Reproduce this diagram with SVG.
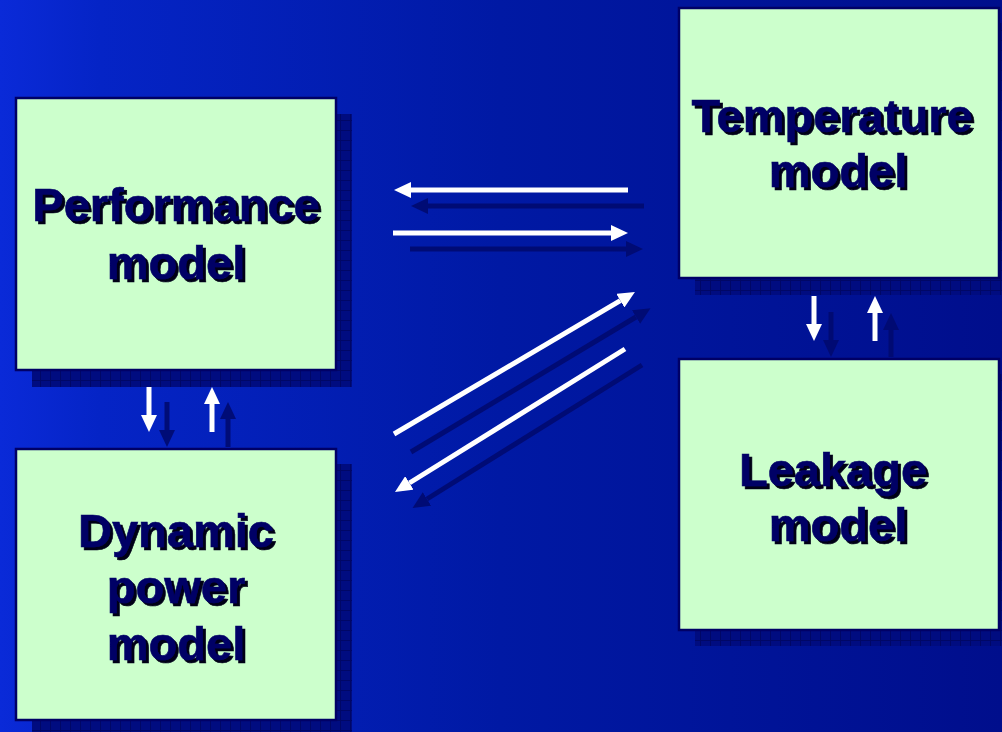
<svg xmlns="http://www.w3.org/2000/svg" width="1002" height="732" viewBox="0 0 1002 732">
  <defs>
    <linearGradient id="bg" x1="0" y1="0" x2="1" y2="0">
      <stop offset="0" stop-color="#0a2ad8"/>
      <stop offset="0.1" stop-color="#0524c6"/>
      <stop offset="0.5" stop-color="#0019a4"/>
      <stop offset="1" stop-color="#000e8c"/>
    </linearGradient>
    <!-- hatched drop shadow fill -->
    <pattern id="hatch" width="10" height="10" patternUnits="userSpaceOnUse">
      <rect width="10" height="10" fill="#000c80"/>
      <path d="M0,0.5 H10 M0.5,0 V10" stroke="#000766" stroke-width="1"/>
    </pattern>
    <marker id="head" markerUnits="userSpaceOnUse" markerWidth="17" markerHeight="16" refX="0" refY="8" orient="auto">
      <path d="M0,0 L17,8 L0,16 z" fill="#ffffff"/>
    </marker>
    <marker id="headShadow" markerUnits="userSpaceOnUse" markerWidth="17" markerHeight="16" refX="0" refY="8" orient="auto">
      <path d="M0,0 L17,8 L0,16 z" fill="#000a70"/>
    </marker>
    <filter id="txtShadow" x="-10%" y="-20%" width="120%" height="140%">
      <feOffset in="SourceAlpha" dx="3" dy="3" result="off"/>
      <feFlood flood-color="#000018"/>
      <feComposite in2="off" operator="in" result="sh"/>
      <feMerge>
        <feMergeNode in="sh"/>
        <feMergeNode in="SourceGraphic"/>
      </feMerge>
    </filter>
  </defs>
  <style>
    .shadow { fill: url(#hatch); }
    .box { fill: #ccffcc; stroke: #000066; stroke-width: 2.5; }
    .label { font-family: "Liberation Sans", Arial, sans-serif; font-weight: bold; font-size: 47px; fill: #000066; stroke: #000066; stroke-width: 0.6; text-anchor: middle; filter: url(#txtShadow); }
    .arrow { stroke: #ffffff; stroke-width: 5; fill: none; marker-end: url(#head); }
    .arrowShadow { stroke: #000a70; stroke-width: 5; fill: none; marker-end: url(#headShadow); opacity: 0.9; }
  </style>

  <rect width="1002" height="732" fill="url(#bg)"/>

  <!-- box shadows -->
  <g id="shadows">
    <rect class="shadow" x="32" y="114" width="320" height="273"/>
    <rect class="shadow" x="32" y="464" width="320" height="272"/>
    <rect class="shadow" x="695" y="23" width="310" height="272"/>
    <rect class="shadow" x="695" y="374" width="310" height="272"/>
  </g>

  <g id="connectors">
    <!-- shadows of arrows -->
    <line class="arrowShadow" x1="644" y1="206" x2="428" y2="206"/>
    <line class="arrowShadow" x1="410" y1="249" x2="626" y2="249"/>
    <line class="arrowShadow" x1="411" y1="452" x2="636" y2="317"/>
    <line class="arrowShadow" x1="642" y1="365" x2="427" y2="499"/>
    <line class="arrowShadow" x1="167" y1="402" x2="167" y2="430"/>
    <line class="arrowShadow" x1="228" y1="447" x2="228" y2="419"/>
    <line class="arrowShadow" x1="831" y1="312" x2="831" y2="340"/>
    <line class="arrowShadow" x1="891" y1="357" x2="891" y2="330"/>
    <!-- Performance <-> Temperature -->
    <line class="arrow" x1="628" y1="190" x2="411" y2="190"/>
    <line class="arrow" x1="393" y1="233" x2="611" y2="233"/>
    <!-- Dynamic power <-> Temperature -->
    <line class="arrow" x1="394" y1="434" x2="620.3" y2="300.6"/>
    <line class="arrow" x1="625" y1="349" x2="409.4" y2="483"/>
    <!-- Performance <-> Dynamic power -->
    <line class="arrow" x1="149" y1="387" x2="149" y2="415"/>
    <line class="arrow" x1="212" y1="432" x2="212" y2="404"/>
    <!-- Temperature <-> Leakage -->
    <line class="arrow" x1="814" y1="296" x2="814" y2="324"/>
    <line class="arrow" x1="875" y1="341" x2="875" y2="313"/>
  </g>

  <g id="performance">
    <rect class="box" x="16" y="98" width="320" height="272"/>
    <text class="label" x="176" y="221">Performance</text>
    <text class="label" x="176" y="279">model</text>
  </g>

  <g id="dynamic-power">
    <rect class="box" x="16" y="449" width="320" height="271"/>
    <text class="label" x="176" y="547">Dynamic</text>
    <text class="label" x="176" y="603">power</text>
    <text class="label" x="176" y="660">model</text>
  </g>

  <g id="temperature">
    <rect class="box" x="679" y="8" width="320" height="270"/>
    <text class="label" x="832" y="132">Temperature</text>
    <text class="label" x="838" y="187">model</text>
  </g>

  <g id="leakage">
    <rect class="box" x="679" y="359" width="320" height="271"/>
    <text class="label" x="833" y="486">Leakage</text>
    <text class="label" x="838" y="541">model</text>
  </g>
</svg>
